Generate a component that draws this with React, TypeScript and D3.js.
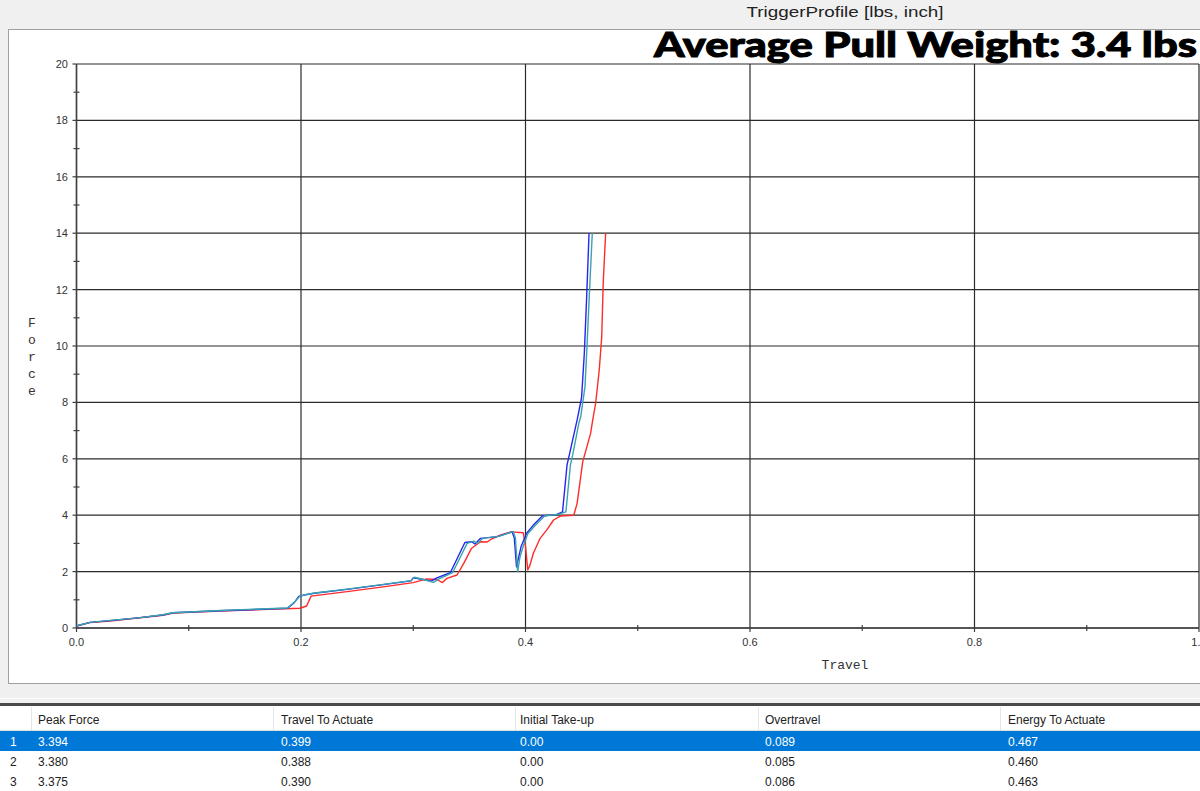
import React from "react";
import * as d3 from "d3";

// ---- data ----
const redTravel = [0.0, 0.012, 0.03, 0.077, 0.086, 0.128, 0.199, 0.205, 0.209, 0.241, 0.27, 0.3, 0.312, 0.321, 0.326, 0.33, 0.339, 0.345, 0.352, 0.36, 0.366, 0.369, 0.378, 0.387, 0.398, 0.4, 0.402, 0.404, 0.407, 0.413, 0.419, 0.425, 0.431, 0.443, 0.446, 0.451, 0.458, 0.4599, 0.4625, 0.4657, 0.4679, 0.4693, 0.4714];
const redForce = [0.07, 0.19, 0.25, 0.45, 0.53, 0.6, 0.7, 0.78, 1.13, 1.29, 1.44, 1.61, 1.74, 1.72, 1.61, 1.76, 1.88, 2.29, 2.83, 3.06, 3.05, 3.14, 3.3, 3.41, 3.38, 2.9, 2.06, 2.23, 2.65, 3.18, 3.48, 3.83, 3.97, 4.0, 4.42, 5.9, 6.9, 7.38, 7.97, 9.15, 10.33, 12.3, 14.0];

const blueTravel = [0.0, 0.012, 0.03, 0.055, 0.077, 0.086, 0.128, 0.188, 0.194, 0.198, 0.204, 0.212, 0.241, 0.27, 0.298, 0.3, 0.309, 0.316, 0.321, 0.333, 0.346, 0.352, 0.355, 0.36, 0.375, 0.388, 0.39, 0.392, 0.396, 0.401, 0.407, 0.415, 0.428, 0.433, 0.437, 0.439, 0.4461, 0.449, 0.450, 0.4524, 0.4545, 0.4566];
const blueForce = [0.07, 0.2, 0.26, 0.36, 0.46, 0.54, 0.61, 0.7, 0.9, 1.12, 1.18, 1.23, 1.37, 1.52, 1.67, 1.78, 1.72, 1.66, 1.78, 1.96, 3.03, 3.06, 2.98, 3.18, 3.24, 3.41, 3.2, 2.17, 2.88, 3.36, 3.65, 3.97, 4.03, 4.12, 5.78, 6.13, 7.4, 7.97, 8.2, 9.74, 11.75, 14.0];

const tealTravel = [0.0, 0.012, 0.03, 0.055, 0.077, 0.086, 0.128, 0.188, 0.195, 0.199, 0.205, 0.212, 0.241, 0.27, 0.298, 0.301, 0.309, 0.318, 0.323, 0.335, 0.348, 0.354, 0.357, 0.362, 0.376, 0.389, 0.391, 0.393, 0.395, 0.398, 0.402, 0.409, 0.417, 0.43, 0.436, 0.44, 0.442, 0.4475, 0.4492, 0.453, 0.4545, 0.4568, 0.4595];
const tealForce = [0.08, 0.2, 0.27, 0.36, 0.47, 0.54, 0.62, 0.71, 0.95, 1.13, 1.19, 1.24, 1.38, 1.53, 1.68, 1.8, 1.72, 1.62, 1.74, 1.96, 3.0, 3.08, 3.0, 3.18, 3.25, 3.42, 3.2, 2.0, 2.5, 2.9, 3.34, 3.65, 3.97, 4.04, 4.12, 5.78, 6.13, 7.26, 7.49, 8.56, 9.74, 11.75, 14.0];

const xMajorTicks = [0, 0.2, 0.4, 0.6, 0.8, 1.0];
const xTickLabels = ["0.0", "0.2", "0.4", "0.6", "0.8", "1.0"];
const xMinorTicks = [0.1, 0.3, 0.5, 0.7, 0.9];
const yMajorTicks = [0, 2, 4, 6, 8, 10, 12, 14, 16, 18, 20];
const yMinorTicks = [1, 3, 5, 7, 9, 11, 13, 15, 17, 19];

const tableColumns = ["Peak Force", "Travel To Actuate", "Initial Take-up", "Overtravel", "Energy To Actuate"];
const rowIds = ["1", "2", "3"];
const peakForce = ["3.394", "3.380", "3.375"];
const travelToActuate = ["0.399", "0.388", "0.390"];
const initialTakeUp = ["0.00", "0.00", "0.00"];
const overtravel = ["0.089", "0.085", "0.086"];
const energyToActuate = ["0.467", "0.460", "0.463"];

const chartTitle = "TriggerProfile [lbs, inch]";
const overlayTitle = "Average Pull Weight: 3.4 lbs";

const W = 1200;
const H = 791;

export default function App() {
  const x = d3.scaleLinear().domain([0, 1]).range([76.5, 1199]);
  const y = d3.scaleLinear().domain([0, 20]).range([628, 64]);

  const line = d3
    .line<[number, number]>()
    .x((d) => x(d[0]))
    .y((d) => y(d[1]));

  const series = [
    { t: redTravel, f: redForce, color: "#ff2b2b" },
    { t: blueTravel, f: blueForce, color: "#2626f0" },
    { t: tealTravel, f: tealForce, color: "#3aa3ab" },
  ];

  const colX = [31, 273, 515, 758, 1000];
  const textX = [38, 281, 520, 765, 1008];
  const rowCols = [peakForce, travelToActuate, initialTakeUp, overtravel, energyToActuate];
  const rowTop = [731, 751, 771];

  const tickFont = "'Liberation Sans', Arial, sans-serif";
  const mono = "'Courier New', 'Liberation Mono', 'DejaVu Sans Mono', monospace";

  return (
    <svg
      width={W}
      height={H}
      viewBox={`0 0 ${W} ${H}`}
      style={{ position: "absolute", left: 0, top: 0, display: "block" }}
    >
      <rect x={0} y={0} width={W} height={H} fill="#f0f0f0" />
      <text
        x={845}
        y={17}
        textAnchor="middle"
        fontFamily={tickFont}
        fontSize={15}
        fill="#222"
        textLength={197}
        lengthAdjust="spacingAndGlyphs"
      >
        {chartTitle}
      </text>
      {/* chart panel */}
      <rect x={8.5} y={29.5} width={1210} height={654} fill="#ffffff" stroke="#a0a0a0" strokeWidth={1} />

      {/* gridlines */}
      {yMajorTicks.map((v) => (
        <line key={"gy" + v} x1={x(0)} x2={x(1)} y1={y(v)} y2={y(v)} stroke="#2b2b2b" strokeWidth={1.2} />
      ))}
      {xMajorTicks.map((v) => (
        <line key={"gx" + v} x1={x(v)} x2={x(v)} y1={y(0)} y2={y(20)} stroke="#2b2b2b" strokeWidth={1.2} />
      ))}

      {/* axes */}
      <line x1={x(0)} x2={x(0)} y1={y(0)} y2={y(20)} stroke="#404040" strokeWidth={1.5} />
      <line x1={x(0)} x2={x(1)} y1={y(0)} y2={y(0)} stroke="#404040" strokeWidth={1.5} />
      {yMajorTicks.map((v) => (
        <line key={"ty" + v} x1={x(0) - 4} x2={x(0)} y1={y(v)} y2={y(v)} stroke="#404040" strokeWidth={1.2} />
      ))}
      {yMinorTicks.map((v) => (
        <line key={"my" + v} x1={x(0) - 3} x2={x(0) + 3} y1={y(v)} y2={y(v)} stroke="#404040" strokeWidth={1.2} />
      ))}
      {xMajorTicks.map((v) => (
        <line key={"tx" + v} x1={x(v)} x2={x(v)} y1={y(0)} y2={y(0) + 4} stroke="#404040" strokeWidth={1.2} />
      ))}
      {xMinorTicks.map((v) => (
        <line key={"mx" + v} x1={x(v)} x2={x(v)} y1={y(0) - 3} y2={y(0) + 3} stroke="#404040" strokeWidth={1.2} />
      ))}

      {/* tick labels */}
      {yMajorTicks.map((v) => (
        <text key={"ly" + v} x={68} y={y(v) + 4} textAnchor="end" fontFamily={tickFont} fontSize={11} fill="#333">
          {String(v)}
        </text>
      ))}
      {xMajorTicks.map((v, i) => (
        <text key={"lx" + v} x={x(v)} y={646} textAnchor="middle" fontFamily={tickFont} fontSize={11} fill="#333">
          {xTickLabels[i]}
        </text>
      ))}

      {/* axis titles */}
      <text x={845} y={669} textAnchor="middle" fontFamily={mono} fontSize={13} fill="#333">
        Travel
      </text>
      {"Force".split("").map((c, i) => (
        <text key={"f" + i} x={32} y={327 + i * 17} textAnchor="middle" fontFamily={mono} fontSize={13} fill="#333">
          {c}
        </text>
      ))}

      {/* series */}
      {series.map((s, i) => (
        <path
          key={"s" + i}
          d={line(s.t.map((t, j) => [t, s.f[j]] as [number, number])) || ""}
          fill="none"
          stroke={s.color}
          strokeWidth={1.4}
          strokeLinejoin="round"
        />
      ))}

      {/* overlay title */}
      <text
        x={1197}
        y={57}
        textAnchor="end"
        fontFamily="Lato, 'DejaVu Sans', sans-serif"
        fontWeight={900}
        fontSize={35}
        fill="#000"
        stroke="#000"
        strokeWidth={1}
        textLength={543}
        lengthAdjust="spacingAndGlyphs"
      >
        {overlayTitle}
      </text>

      {/* lower band */}
      <line x1={0} x2={W} y1={698.5} y2={698.5} stroke="#fbfbfb" strokeWidth={1} />
      <rect x={0} y={703} width={W} height={3} fill="#4a4a4a" />

      {/* table header */}
      <rect x={0} y={706} width={W} height={24} fill="#ffffff" />
      <line x1={0} x2={W} y1={730.5} y2={730.5} stroke="#e0e0e0" strokeWidth={1} />
      {colX.map((cx, i) => (
        <line key={"cs" + i} x1={cx + 0.5} x2={cx + 0.5} y1={707} y2={730} stroke="#e5e5e5" strokeWidth={1} />
      ))}
      {tableColumns.map((c, i) => (
        <text key={"h" + i} x={textX[i]} y={724} fontFamily={tickFont} fontSize={12} fill="#222">
          {c}
        </text>
      ))}

      {/* rows */}
      {rowIds.map((id, r) => (
        <g key={"r" + r}>
          <rect x={0} y={rowTop[r]} width={W} height={20} fill={r === 0 ? "#0078d7" : "#ffffff"} />
          <text x={10} y={rowTop[r] + 15} fontFamily={tickFont} fontSize={12} fill={r === 0 ? "#ffffff" : "#222"}>
            {id}
          </text>
          {rowCols.map((col, ci) => (
            <text
              key={"c" + ci}
              x={textX[ci]}
              y={rowTop[r] + 15}
              fontFamily={tickFont}
              fontSize={12}
              fill={r === 0 ? "#ffffff" : "#222"}
            >
              {col[r]}
            </text>
          ))}
        </g>
      ))}
    </svg>
  );
}
